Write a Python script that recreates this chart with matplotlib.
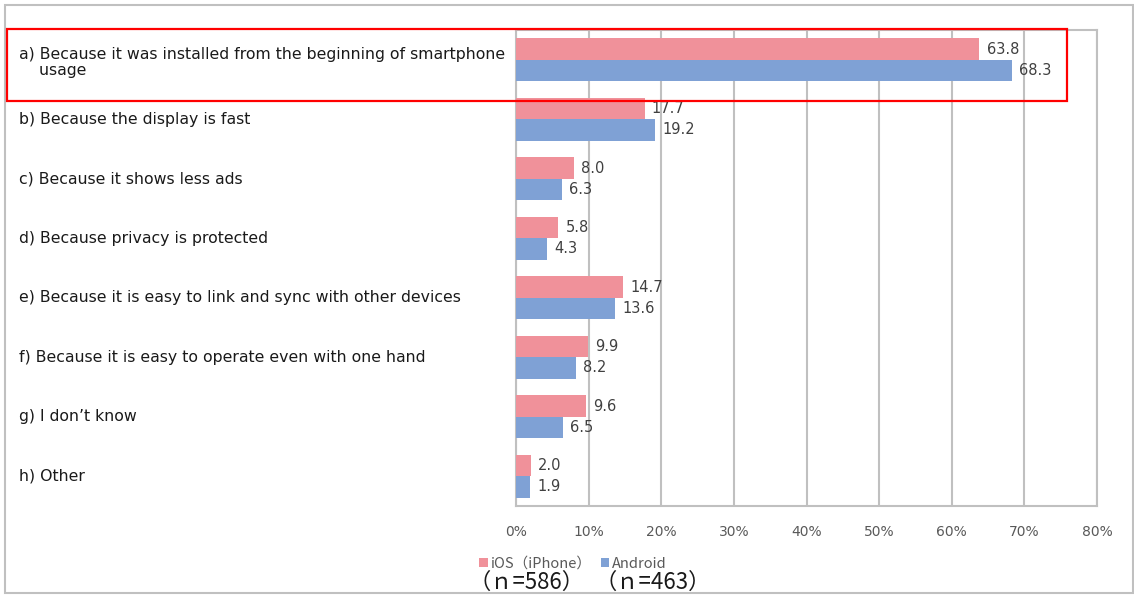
import matplotlib.pyplot as plt
import numpy as np
from matplotlib.patches import Rectangle
from matplotlib.transforms import blended_transform_factory

plt.rcParams['font.family'] = ['DejaVu Sans', 'Noto Sans CJK JP']

categories = [
    "a) Because it was installed from the beginning of smartphone\n    usage",
    "b) Because the display is fast",
    "c) Because it shows less ads",
    "d) Because privacy is protected",
    "e) Because it is easy to link and sync with other devices",
    "f) Because it is easy to operate even with one hand",
    "g) I don\u2019t know",
    "h) Other",
]
ios = [63.8, 17.7, 8.0, 5.8, 14.7, 9.9, 9.6, 2.0]
android = [68.3, 19.2, 6.3, 4.3, 13.6, 8.2, 6.5, 1.9]
series_names = ["iOS\uff08iPhone\uff09", "Android"]
n_labels = ["\uff08\uff4e=586\uff09", "\uff08\uff4e=463\uff09"]
xticks = [0, 10, 20, 30, 40, 50, 60, 70, 80]

pink = "#F0919A"
blue = "#7FA1D5"
grid_c = "#C0C0C0"
cjk = ['Noto Sans CJK JP', 'DejaVu Sans']

W, H = 1134, 595
fig = plt.figure(figsize=(W / 100, H / 100), dpi=100)
ax = fig.add_axes([516 / W, 1 - 506 / H, (1097 - 516) / W, (506 - 30) / H])

y = np.arange(len(categories))
bh = 0.36
ax.barh(y - bh / 2, ios, height=bh, color=pink, label=series_names[0], zorder=3)
ax.barh(y + bh / 2, android, height=bh, color=blue, label=series_names[1], zorder=3)

for i in range(len(categories)):
    ax.text(ios[i] + 1.0, y[i] - bh / 2, f"{ios[i]:.1f}", va="center", ha="left",
            fontsize=10.5, color="#404040", zorder=4)
    ax.text(android[i] + 1.0, y[i] + bh / 2, f"{android[i]:.1f}", va="center", ha="left",
            fontsize=10.5, color="#404040", zorder=4)

ax.set_xlim(0, 80)
ax.set_ylim(len(categories) - 0.5, -0.5)
ax.set_xticks(xticks)
ax.set_xticklabels([f"{t}%" for t in xticks], fontsize=10, color="#595959")
ax.tick_params(axis="x", length=0, pad=14)
ax.set_yticks([])
ax.grid(axis="x", color=grid_c, linewidth=1.5, zorder=1)
for s in ax.spines.values():
    s.set_color(grid_c)
    s.set_linewidth(1.5)

# category labels on the left
tr = blended_transform_factory(fig.transFigure, ax.transData)
for i, lab in enumerate(categories):
    yy = y[i] + (0.05 if i == 0 else 0)
    ax.text(19 / W, yy, lab, transform=tr, ha="left", va="center",
            fontsize=11.3, color="#1a1a1a", linespacing=1.05)

# legend
leg = fig.legend(loc="center left", bbox_to_anchor=(472 / W, 1 - 564 / H), ncol=2,
                 frameon=False, fontsize=10.5, handlelength=0.6, handleheight=0.6,
                 handletextpad=0.2, columnspacing=0.6, borderpad=0)
for t in leg.get_texts():
    t.set_color("#595959")
    t.set_family(cjk)
fig.text(468 / W, 1 - 582 / H, n_labels[0], fontsize=16, ha="left", va="center",
         family=cjk, color="#1a1a1a")
fig.text(594 / W, 1 - 582 / H, n_labels[1], fontsize=16, ha="left", va="center",
         family=cjk, color="#1a1a1a")

# outer border and red highlight box
fig.patches.append(Rectangle((5 / W, 1 - 593 / H), (1133 - 5) / W, (593 - 5) / H,
                             transform=fig.transFigure, fill=False,
                             edgecolor=grid_c, linewidth=1.5))
fig.patches.append(Rectangle((7 / W, 1 - 101 / H), (1067 - 7) / W, (101 - 29) / H,
                             transform=fig.transFigure, fill=False,
                             edgecolor="#FF0000", linewidth=1.6, zorder=10))

fig.savefig("out.png", dpi=100)
